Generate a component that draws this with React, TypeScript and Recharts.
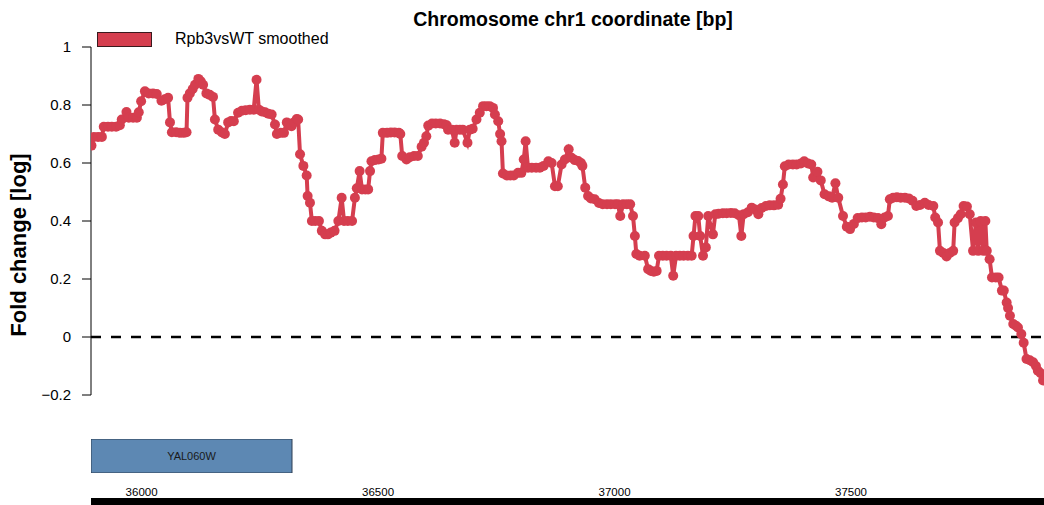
import React from 'react';
import { LineChart, Line, XAxis, YAxis, ReferenceLine, ComposedChart, BarChart, Bar, LabelList } from 'recharts';

const seriesName = 'Rpb3vsWT smoothed';
const seriesColor = '#d53e4f';
const chartTitle = 'Chromosome chr1 coordinate [bp]';
const yAxisTitle = 'Fold change [log]';

const viewStart = 35893;
const viewEnd = 37908;

const yTicks = [-0.2, 0, 0.2, 0.4, 0.6, 0.8, 1];
const yTickLabels = ['\u22120.2', '0', '0.2', '0.4', '0.6', '0.8', '1'];
const xTicks = [36000, 36500, 37000, 37500];

const geneNames = ['YAL060W'];
const geneStarts = [35893];
const geneEnds = [36318];

// [chromosome position (bp), smoothed fold change (log)]
const smoothedPoints: [number, number][] = [
  [35894, 0.66], [35899, 0.69], [35908, 0.69], [35916, 0.69], [35920, 0.725], [35929, 0.725],
  [35937, 0.725], [35946, 0.725], [35954, 0.73], [35958, 0.75], [35968, 0.776], [35973, 0.756],
  [35982, 0.756], [35990, 0.756], [35994, 0.775], [35999, 0.813], [36007, 0.847], [36015, 0.84],
  [36024, 0.84], [36032, 0.838], [36042, 0.815], [36049, 0.82], [36056, 0.825], [36060, 0.74],
  [36064, 0.706], [36073, 0.706], [36081, 0.704], [36089, 0.704], [36095, 0.706], [36097, 0.825],
  [36102, 0.84], [36108, 0.855], [36113, 0.87], [36120, 0.89], [36125, 0.882], [36130, 0.87],
  [36137, 0.84], [36144, 0.835], [36151, 0.828], [36155, 0.75], [36162, 0.715], [36170, 0.705],
  [36176, 0.70], [36183, 0.74], [36189, 0.745], [36195, 0.744], [36204, 0.773], [36212, 0.78],
  [36220, 0.782], [36229, 0.784], [36237, 0.784], [36243, 0.887], [36248, 0.784], [36254, 0.778],
  [36261, 0.775], [36268, 0.77], [36275, 0.767], [36282, 0.733], [36286, 0.70], [36294, 0.704],
  [36301, 0.704], [36307, 0.74], [36311, 0.73], [36317, 0.727], [36322, 0.74], [36328, 0.752],
  [36331, 0.75], [36335, 0.63], [36342, 0.59], [36349, 0.557], [36351, 0.486], [36356, 0.463],
  [36360, 0.40], [36367, 0.40], [36375, 0.40], [36381, 0.366], [36388, 0.354], [36394, 0.354],
  [36400, 0.36], [36408, 0.366], [36416, 0.40], [36423, 0.48], [36428, 0.40], [36436, 0.40],
  [36445, 0.40], [36451, 0.48], [36455, 0.513], [36461, 0.572], [36466, 0.509], [36473, 0.509],
  [36479, 0.509], [36483, 0.572], [36486, 0.606], [36493, 0.61], [36501, 0.612], [36507, 0.615],
  [36510, 0.704], [36519, 0.704], [36527, 0.705], [36535, 0.705], [36544, 0.704], [36547, 0.70],
  [36551, 0.624], [36560, 0.612], [36567, 0.62], [36576, 0.624], [36584, 0.624], [36592, 0.656],
  [36597, 0.67], [36602, 0.692], [36606, 0.729], [36614, 0.736], [36622, 0.736], [36631, 0.736],
  [36639, 0.734], [36645, 0.73], [36648, 0.715], [36656, 0.715], [36662, 0.67], [36666, 0.715],
  [36673, 0.715], [36679, 0.715], [36689, 0.67], [36694, 0.715], [36700, 0.718], [36708, 0.75],
  [36715, 0.773], [36722, 0.796], [36729, 0.796], [36736, 0.796], [36743, 0.79], [36747, 0.767],
  [36754, 0.744], [36758, 0.70], [36761, 0.675], [36764, 0.564], [36772, 0.557], [36780, 0.557],
  [36787, 0.557], [36796, 0.566], [36803, 0.566], [36808, 0.612], [36812, 0.675], [36817, 0.584],
  [36825, 0.584], [36834, 0.584], [36842, 0.584], [36850, 0.59], [36860, 0.606], [36867, 0.60],
  [36874, 0.52], [36880, 0.52], [36888, 0.595], [36895, 0.612], [36903, 0.647], [36909, 0.618],
  [36916, 0.61], [36923, 0.607], [36929, 0.60], [36932, 0.59], [36938, 0.515], [36944, 0.486],
  [36950, 0.478], [36958, 0.475], [36967, 0.462], [36975, 0.458], [36984, 0.458], [36992, 0.458],
  [37001, 0.458], [37007, 0.458], [37012, 0.417], [37018, 0.458], [37026, 0.458], [37033, 0.458],
  [37039, 0.417], [37043, 0.348], [37046, 0.286], [37053, 0.28], [37064, 0.28], [37071, 0.234],
  [37077, 0.228], [37083, 0.225], [37089, 0.228], [37094, 0.28], [37102, 0.28], [37110, 0.28],
  [37119, 0.28], [37124, 0.211], [37130, 0.28], [37138, 0.28], [37146, 0.28], [37155, 0.28],
  [37163, 0.28], [37167, 0.348], [37171, 0.417], [37177, 0.417], [37181, 0.348], [37187, 0.28],
  [37193, 0.309], [37198, 0.417], [37208, 0.354], [37213, 0.423], [37220, 0.425], [37229, 0.427],
  [37237, 0.427], [37246, 0.428], [37254, 0.427], [37263, 0.42], [37268, 0.348], [37273, 0.423],
  [37282, 0.43], [37290, 0.446], [37297, 0.44], [37304, 0.423], [37311, 0.445], [37320, 0.452],
  [37328, 0.454], [37337, 0.454], [37346, 0.456], [37351, 0.477], [37356, 0.526], [37360, 0.589],
  [37368, 0.595], [37377, 0.595], [37385, 0.595], [37394, 0.598], [37401, 0.606], [37409, 0.598],
  [37416, 0.595], [37420, 0.55], [37429, 0.57], [37436, 0.54], [37444, 0.492], [37453, 0.485],
  [37460, 0.48], [37467, 0.53], [37473, 0.48], [37483, 0.417], [37491, 0.38], [37498, 0.372],
  [37506, 0.39], [37514, 0.41], [37523, 0.412], [37531, 0.412], [37540, 0.415], [37548, 0.412],
  [37557, 0.41], [37564, 0.389], [37571, 0.412], [37578, 0.417], [37582, 0.475], [37589, 0.48],
  [37597, 0.482], [37605, 0.48], [37614, 0.48], [37622, 0.478], [37630, 0.47], [37638, 0.452],
  [37646, 0.455], [37656, 0.463], [37664, 0.455], [37674, 0.452], [37678, 0.412], [37684, 0.395],
  [37688, 0.297], [37695, 0.29], [37702, 0.278], [37709, 0.29], [37716, 0.297], [37719, 0.395],
  [37726, 0.41], [37732, 0.423], [37738, 0.452], [37745, 0.45], [37751, 0.423], [37758, 0.297],
  [37764, 0.395], [37769, 0.297], [37774, 0.40], [37780, 0.297], [37784, 0.40], [37787, 0.297],
  [37793, 0.268], [37798, 0.205], [37806, 0.205], [37812, 0.205], [37819, 0.16], [37823, 0.16],
  [37829, 0.119], [37832, 0.10], [37836, 0.073], [37843, 0.045], [37848, 0.04], [37853, 0.033],
  [37860, 0.01], [37865, -0.02], [37871, -0.076], [37878, -0.08], [37885, -0.087], [37891, -0.10],
  [37895, -0.116], [37901, -0.125], [37906, -0.15],
];

const FONT = '"Liberation Sans", Arial, Helvetica, sans-serif';

const chartData = smoothedPoints.map(([pos, fc]) => ({ pos, fc }));
const geneData = geneNames.map((name, i) => ({ name, range: [geneStarts[i], geneEnds[i]] }));
const axisData = xTicks.map((pos) => ({ pos }));

const GenomeTick = (props: any) => {
  const { x, y, payload } = props;
  return (
    <text x={x} y={y - 6} textAnchor="middle" fontSize={11.5} fontFamily={FONT} fill="#000">
      {payload.value}
    </text>
  );
};

export default function App() {
  return (
    <div style={{ position: 'absolute', left: 0, top: 0, width: 1044, height: 505, background: '#fff', overflow: 'hidden' }}>
      <div style={{ position: 'absolute', left: 0, top: 0 }}>
        <LineChart width={1044} height={410} data={chartData} margin={{ top: 47, right: 0, bottom: 15, left: 0 }}>
          <XAxis type="number" dataKey="pos" domain={[viewStart, viewEnd]} hide allowDataOverflow />
          <YAxis
            type="number"
            domain={[-0.2, 1]}
            ticks={yTicks}
            width={91}
            tickSize={9}
            tickMargin={11}
            interval={0}
            tickFormatter={(v: number) => yTickLabels[yTicks.indexOf(v)] ?? String(v)}
            tick={{ fill: '#000', fontSize: 15, fontFamily: FONT }}
            axisLine={{ stroke: '#000', strokeWidth: 1 }}
            tickLine={{ stroke: '#000', strokeWidth: 1 }}
          />
          <ReferenceLine y={0} stroke="#000" strokeWidth={2.5} strokeDasharray="10 10" />
          <Line
            type="linear"
            dataKey="fc"
            name={seriesName}
            stroke={seriesColor}
            strokeWidth={4}
            dot={{ r: 5, fill: seriesColor, stroke: 'none' }}
            activeDot={false}
            isAnimationActive={false}
          />
        </LineChart>
      </div>

      <div style={{ position: 'absolute', left: 0, top: 439 }}>
        <BarChart
          layout="vertical"
          width={1044}
          height={34}
          data={geneData}
          margin={{ top: 0, right: 0, bottom: 0, left: 91 }}
          barCategoryGap={0}
        >
          <XAxis type="number" domain={[viewStart, viewEnd]} hide allowDataOverflow />
          <YAxis type="category" dataKey="name" hide width={0} />
          <Bar dataKey="range" fill="#5d88b3" stroke="#2f3f52" strokeWidth={1} isAnimationActive={false}>
            <LabelList dataKey="name" position="center" fill="#1a1a1a" fontSize={11} fontFamily={FONT} />
          </Bar>
        </BarChart>
      </div>

      <div style={{ position: 'absolute', left: 0, top: 460 }}>
        <ComposedChart width={1044} height={45} data={axisData} margin={{ top: 0, right: 0, bottom: 0, left: 91 }}>
          <XAxis
            type="number"
            dataKey="pos"
            domain={[viewStart, viewEnd]}
            ticks={xTicks}
            interval={0}
            height={3.5}
            tickSize={0}
            tickMargin={0}
            tickLine={false}
            tick={<GenomeTick />}
            axisLine={{ stroke: '#000', strokeWidth: 7 }}
            allowDataOverflow
          />
          <YAxis type="number" domain={[0, 1]} hide width={0} />
        </ComposedChart>
      </div>

      <div style={{ position: 'absolute', left: 97, top: 32, width: 53, height: 13, background: seriesColor, border: '1px solid #3a1a1e' }} />
      <div style={{ position: 'absolute', left: 175, top: 29, fontFamily: FONT, fontSize: 16, lineHeight: '20px', color: '#000', whiteSpace: 'nowrap' }}>
        {seriesName}
      </div>

      <svg width={1044} height={505} style={{ position: 'absolute', left: 0, top: 0, pointerEvents: 'none' }}>
        <text x={573} y={26} textAnchor="middle" fontFamily={FONT} fontWeight="bold" fontSize={19.5} fill="#000">
          {chartTitle}
        </text>
        <text
          x={18}
          y={245}
          transform="rotate(-90, 18, 245)"
          textAnchor="middle"
          dominantBaseline="central"
          fontFamily={FONT}
          fontWeight="bold"
          fontSize={22}
          fill="#000"
        >
          {yAxisTitle}
        </text>
      </svg>
    </div>
  );
}
